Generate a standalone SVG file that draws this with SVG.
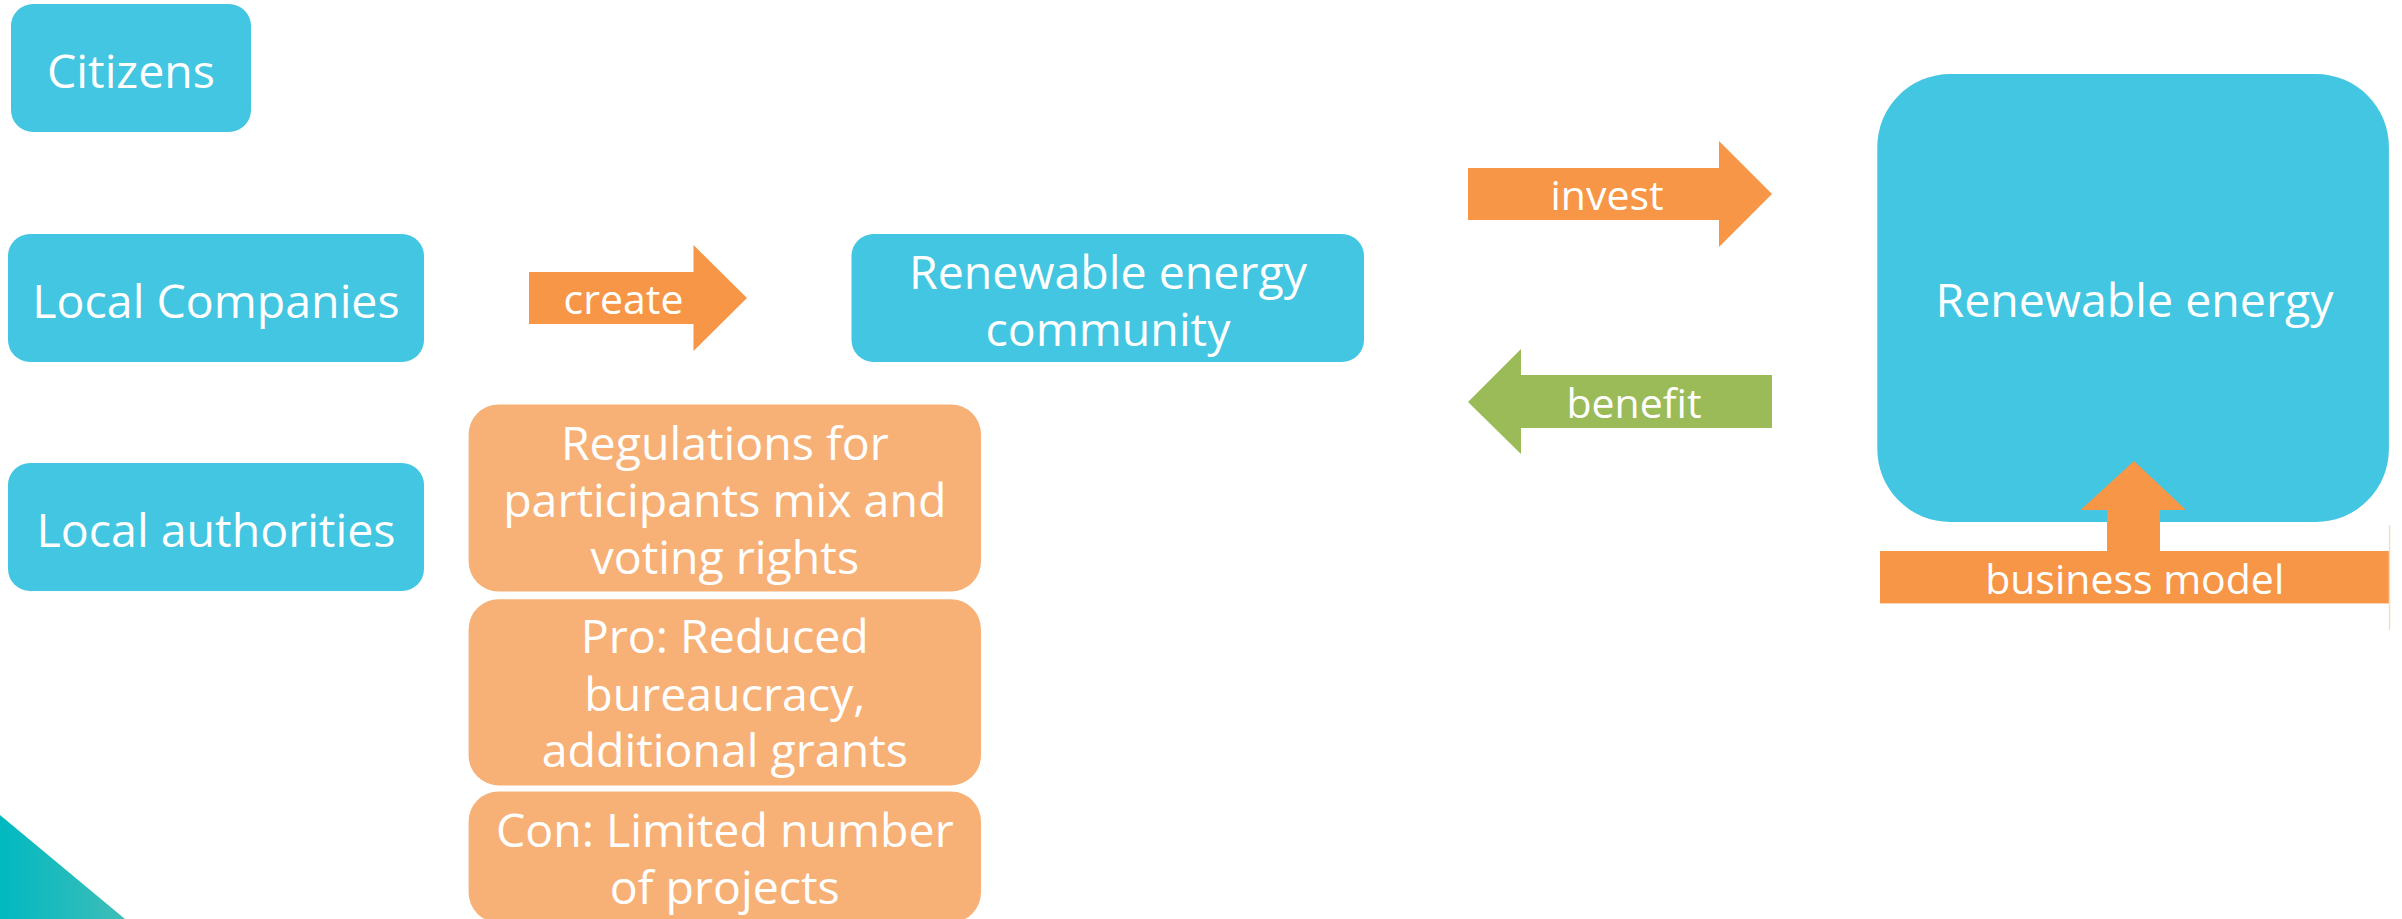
<svg xmlns="http://www.w3.org/2000/svg" width="2402" height="919" viewBox="0 0 2402 919">
  <defs>
    <linearGradient id="teal" x1="0" y1="0" x2="1" y2="0">
      <stop offset="0" stop-color="#00B9C1"/>
      <stop offset="1" stop-color="#3FBDB8"/>
    </linearGradient>
  </defs>
  <style>
    .blue { fill: #42C6E1; }
    .peach { fill: #F7B177; }
    .orange { fill: #F79646; }
    .green { fill: #9BBB59; }
    text { font-family: "Open Sans", "Liberation Sans", sans-serif; fill: #FFFFFF; text-anchor: middle; }
    .big { font-size: 46.5px; }
    .lbl { font-size: 41px; }
  </style>
  <rect width="2402" height="919" fill="#FFFFFF"/>
  <polygon points="0,815 125,919 0,919" fill="url(#teal)"/>

  <g id="citizens">
    <rect class="blue" x="11" y="4" width="240" height="128" rx="22"/>
    <text class="big" x="131" y="88">Citizens</text>
  </g>
  <g id="local-companies">
    <rect class="blue" x="8" y="234" width="416" height="128" rx="22"/>
    <text class="big" x="216" y="318">Local Companies</text>
  </g>
  <g id="local-authorities">
    <rect class="blue" x="8" y="463" width="416" height="128" rx="22"/>
    <text class="big" x="216" y="547">Local authorities</text>
  </g>
  <g id="rec">
    <rect class="blue" x="851.5" y="234" width="512.5" height="128" rx="22"/>
    <text class="big"><tspan x="1108" y="289">Renewable energy</tspan><tspan x="1108" y="345.7">community</tspan></text>
  </g>
  <g id="regulations">
    <rect class="peach" x="468.6" y="404.5" width="512.4" height="187" rx="30"/>
    <text class="big"><tspan x="724.8" y="459.8">Regulations for</tspan><tspan x="724.8" y="517.2">participants mix and</tspan><tspan x="724.8" y="573.9">voting rights</tspan></text>
  </g>
  <g id="pro">
    <rect class="peach" x="468.6" y="599.2" width="512.4" height="186.2" rx="30"/>
    <text class="big"><tspan x="724.8" y="653.2">Pro: Reduced</tspan><tspan x="724.8" y="710.5">bureaucracy,</tspan><tspan x="724.8" y="766.9">additional grants</tspan></text>
  </g>
  <g id="con">
    <rect class="peach" x="468.6" y="791.5" width="512.4" height="131" rx="30"/>
    <text class="big"><tspan x="724.8" y="847.3">Con: Limited number</tspan><tspan x="724.8" y="904.3">of projects</tspan></text>
  </g>
  <g id="renewable-energy">
    <rect class="blue" x="1877.3" y="74" width="511.6" height="448" rx="73"/>
    <text class="big" x="2134.5" y="317">Renewable energy</text>
  </g>

  <g id="connectors">
    <g id="create">
      <polygon class="orange" points="529,272 693.5,272 693.5,245 747,298 693.5,351 693.5,324 529,324"/>
      <text class="lbl" x="623.5" y="314">create</text>
    </g>
    <g id="invest">
      <polygon class="orange" points="1468,168 1719,168 1719,141 1772,194 1719,247 1719,220 1468,220"/>
      <text class="lbl" x="1607" y="210">invest</text>
    </g>
    <g id="benefit">
      <polygon class="green" points="1772,375 1521,375 1521,349 1468,402 1521,454 1521,428 1772,428"/>
      <text class="lbl" x="1634" y="417.7">benefit</text>
    </g>
    <g id="business-model">
      <polygon class="orange" points="2107,551 2107,510 2080.5,510 2134,461 2186,510 2160,510 2160,551"/>
      <rect class="orange" x="1880" y="551" width="509" height="52.4"/>
      <line x1="2389.5" y1="525" x2="2389.5" y2="630" stroke="#F6DCC8" stroke-width="1.5"/>
      <text class="lbl" x="2134.7" y="594">business model</text>
    </g>
  </g>
</svg>
